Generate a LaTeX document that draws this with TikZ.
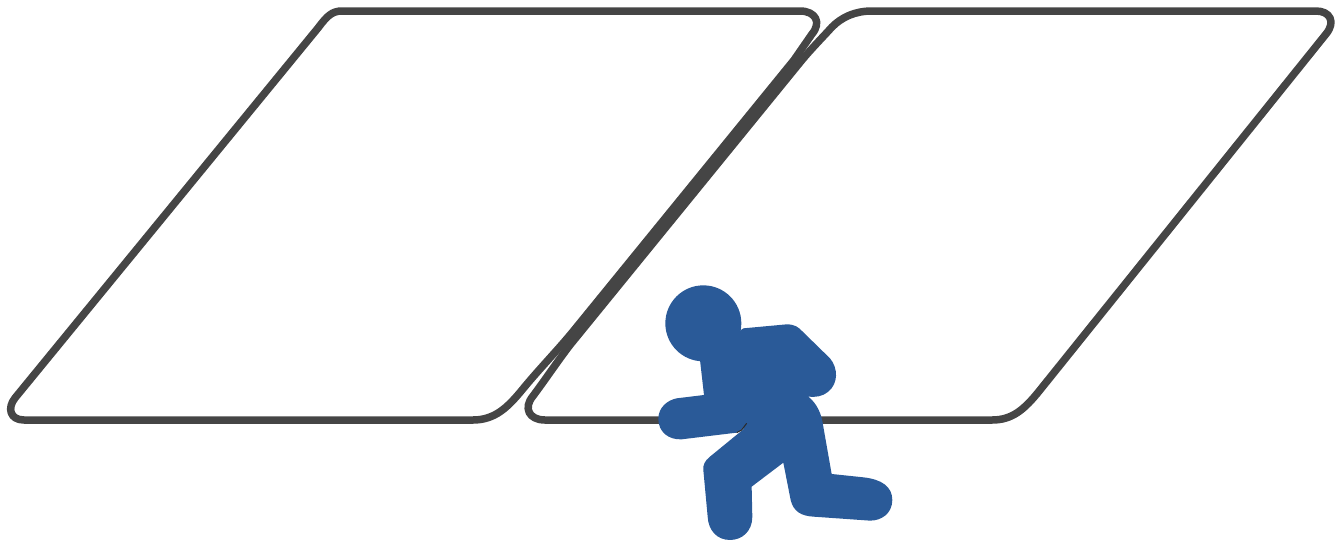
\documentclass[tikz,border=0pt]{standalone}
\definecolor{frameline}{HTML}{454545}
\definecolor{figureblue}{HTML}{2A5A98}
\tikzset{
  panel/.style={draw=frameline,line width=7.5pt,line join=round},
}
\begin{document}
\begin{tikzpicture}[x=1pt,y=-1pt]
\useasboundingbox (0,0) rectangle (1341,542);
% left panel
\draw[panel] (342,11) -- (800,11)
  .. controls (815,11) and (822,22) .. (812,34)
  -- (794,60) -- (575,329)
  .. controls (558,350) and (540,368) .. (522,390)
  .. controls (508,407) and (495,420) .. (473,420)
  -- (24,420)
  .. controls (10,420) and (7,408) .. (15,398)
  -- (318,28)
  .. controls (327,16) and (332,11) .. (342,11) -- cycle;
% right panel
\draw[panel] (872,11) -- (1316,11)
  .. controls (1330,11) and (1336,22) .. (1326,34)
  -- (1040,390)
  .. controls (1024,410) and (1012,420) .. (992,420)
  -- (545,420)
  .. controls (529,420) and (523,408) .. (533,396)
  .. controls (545,380) and (557,362) .. (570,345)
  -- (802,60)
  .. controls (812,48) and (822,38) .. (832,27)
  .. controls (842,17) and (855,11) .. (872,11) -- cycle;
% person, coordinates taken at 3x from the point (640,270)
\begin{scope}[shift={(640,270)},x=0.3333pt,y=-0.3333pt]
  \fill[figureblue] (190,160) circle[radius=114];
  \fill[figureblue] (310,175) -- (440,163)
    .. controls (465,163) and (475,172) .. (485,182)
    -- (570,265)
    .. controls (595,295) and (595,340) .. (565,365)
    .. controls (548,380) and (525,382) .. (505,380)
    .. controls (530,400) and (545,430) .. (550,470)
    -- (575,612) -- (670,622)
    .. controls (725,628) and (757,650) .. (757,690)
    .. controls (757,730) and (725,752) .. (690,752)
    -- (520,740)
    .. controls (485,738) and (460,725) .. (452,690)
    -- (430,578) -- (335,650) -- (337,740)
    .. controls (337,785) and (305,810) .. (270,810)
    .. controls (230,810) and (205,780) .. (203,740)
    -- (190,600)
    .. controls (188,585) and (195,572) .. (210,560)
    -- (320,470) -- (290,488) -- (125,508)
    .. controls (85,510) and (55,485) .. (55,447)
    .. controls (55,410) and (85,390) .. (110,385)
    -- (192,375) -- (180,270) -- cycle;
  \draw[frameline!60!black,line width=1pt] (290,488) -- (305,480) -- (320,460);
\end{scope}
\end{tikzpicture}
\end{document}
